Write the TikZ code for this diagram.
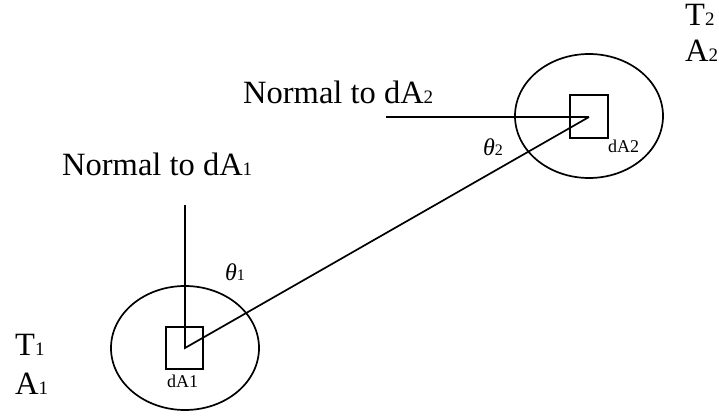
\documentclass[tikz,border=0pt]{standalone}
\usepackage{fontspec}
\setmainfont{Liberation Serif}
\usetikzlibrary{shapes.geometric}
\newcommand{\bigtxt}{\fontsize{32.5}{32.5}\selectfont}
\newcommand{\subtxt}{\fontsize{19}{19}\selectfont}
\newcommand{\thtxt}{\fontsize{24}{24}\selectfont}
\newcommand{\thsub}{\fontsize{16}{16}\selectfont}
\newcommand{\smalltxt}{\fontsize{18}{18}\selectfont}
\tikzset{
  lbl/.style={inner sep=0pt, anchor=base west},
  surf/.style={draw, ellipse, line width=1.7pt, minimum width=148pt, minimum height=124pt, inner sep=0pt},
  patch/.style={draw, rectangle, line width=1.7pt, inner sep=0pt},
  ray/.style={line width=1.7pt}
}
\begin{document}
\begin{tikzpicture}[x=1pt,y=-1pt]
\useasboundingbox (0,0) rectangle (719,417);
% surfaces
\node[surf] (e1) at (185,348) {};
\node[surf] (e2) at (589,116) {};
% patches
\node[patch, minimum width=37pt, minimum height=42pt] (s1) at (184.5,348) {};
\node[patch, minimum width=38pt, minimum height=43pt] (s2) at (589,116.5) {};
% points
\coordinate (c1) at (185,348);
\coordinate (c2) at (589,117);
\coordinate (n1) at (185,205);
\coordinate (n2) at (386,117);
\draw[ray] (n1) -- (c1) -- (c2);
\draw[ray] (n2) -- (c2);
% labels
\node[lbl] (t2) at (685,26) {\bigtxt T{\subtxt 2}};
\node[lbl] (a2) at (685,62) {\bigtxt A{\subtxt 2}};
\node[lbl] (t1) at (15,355) {\bigtxt T{\subtxt 1}};
\node[lbl] (a1) at (15,394) {\bigtxt A{\subtxt 1}};
\node[lbl] (nl2) at (243,103) {\bigtxt Normal to dA{\subtxt 2}};
\node[lbl] (nl1) at (62,175) {\bigtxt Normal to dA{\subtxt 1}};
\node[lbl] (th2) at (483,155) {\thtxt\itshape θ{\thsub\upshape 2}};
\node[lbl] (th1) at (225,280) {\thtxt\itshape θ{\thsub\upshape 1}};
\node[lbl] (d1) at (167,387) {\smalltxt dA1};
\node[lbl] (d2) at (608,152) {\smalltxt dA2};
\end{tikzpicture}
\end{document}
